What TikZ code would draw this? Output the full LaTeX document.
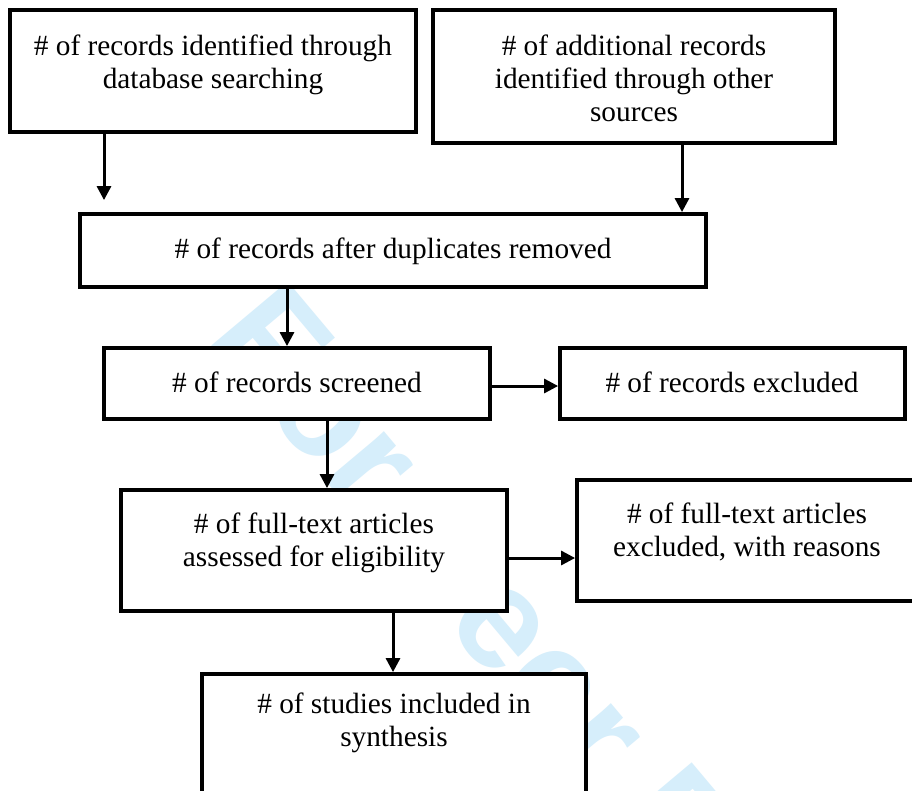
\documentclass[tikz,border=0pt]{standalone}
\usepackage{fontspec}
\setmainfont{Liberation Serif}
\newfontfamily\wmfont{Liberation Sans}
\usetikzlibrary{arrows.meta}
\definecolor{wmblue}{RGB}{214,238,251}

\begin{document}
\begin{tikzpicture}[x=1pt,y=-1pt,
  box/.style={draw, line width=3.8pt, fill=white, inner sep=0pt},
  txt/.style={anchor=north, inner sep=0pt, align=center,
              font=\fontsize{29.3}{32.8}\selectfont},
  arr/.style={line width=3pt, -{Triangle[length=14pt,width=14pt]}}]

\useasboundingbox (0,0) rectangle (912,790);
\clip (0,0) rectangle (912,790);
\fill[white] (0,0) rectangle (912,790);

% diagonal watermark behind the boxes
\node[anchor=base west, rotate=-50, inner sep=0pt, text=wmblue,
      font=\wmfont\bfseries\fontsize{145}{150}\selectfont]
  (wm) at (205,338) {For Peer Review};

% boxes
\node[box, minimum width=406pt, minimum height=122pt] (A) at (213,71) {};
\node[box, minimum width=402pt, minimum height=133pt] (B) at (634,76.5) {};
\node[box, minimum width=626pt, minimum height=73pt]  (C) at (393,250.5) {};
\node[box, minimum width=386pt, minimum height=71pt]  (D) at (297,383.5) {};
\node[box, minimum width=345pt, minimum height=71pt]  (E) at (732.5,383.5) {};
\node[box, minimum width=386pt, minimum height=121pt] (F) at (314,550.5) {};
\node[box, minimum width=340pt, minimum height=121pt] (G) at (747,540.5) {};
\node[box, minimum width=384pt, minimum height=160pt] (H) at (394,754) {};

% box texts
\node[txt] (tA) at (213,35)  {\# of records identified through\\database searching};
\node[txt] (tB) at (634,35)  {\# of additional records\\identified through other\\sources};
\node[txt] (tC) at (393,238) {\# of records after duplicates removed};
\node[txt] (tD) at (297,372) {\# of records screened};
\node[txt] (tE) at (732,372) {\# of records excluded};
\node[txt] (tF) at (314,513) {\# of full-text articles\\assessed for eligibility};
\node[txt] (tG) at (747,503) {\# of full-text articles\\excluded, with reasons};
\node[txt] (tH) at (394,693) {\# of studies included in\\synthesis};

% connectors
\draw[arr, shorten >=12pt] ([xshift=-109pt]A.south) -- ([xshift=-109pt]A.south |- C.north);
\draw[arr] ([xshift=48pt]B.south)  -- ([xshift=48pt]B.south |- C.north);
\draw[arr] ([xshift=-106pt]C.south) -- ([xshift=-106pt]C.south |- D.north);
\draw[arr] ([yshift=-2.5pt]D.east) -- ([yshift=-2.5pt]D.east -| E.west);
\draw[arr] ([xshift=30pt]D.south)  -- ([xshift=30pt]D.south |- F.north);
\draw[arr] ([yshift=-7.5pt]F.east) -- ([yshift=-7.5pt]F.east -| G.west);
\draw[arr] ([xshift=79pt]F.south)  -- ([xshift=79pt]F.south |- H.north);
\end{tikzpicture}
\end{document}
